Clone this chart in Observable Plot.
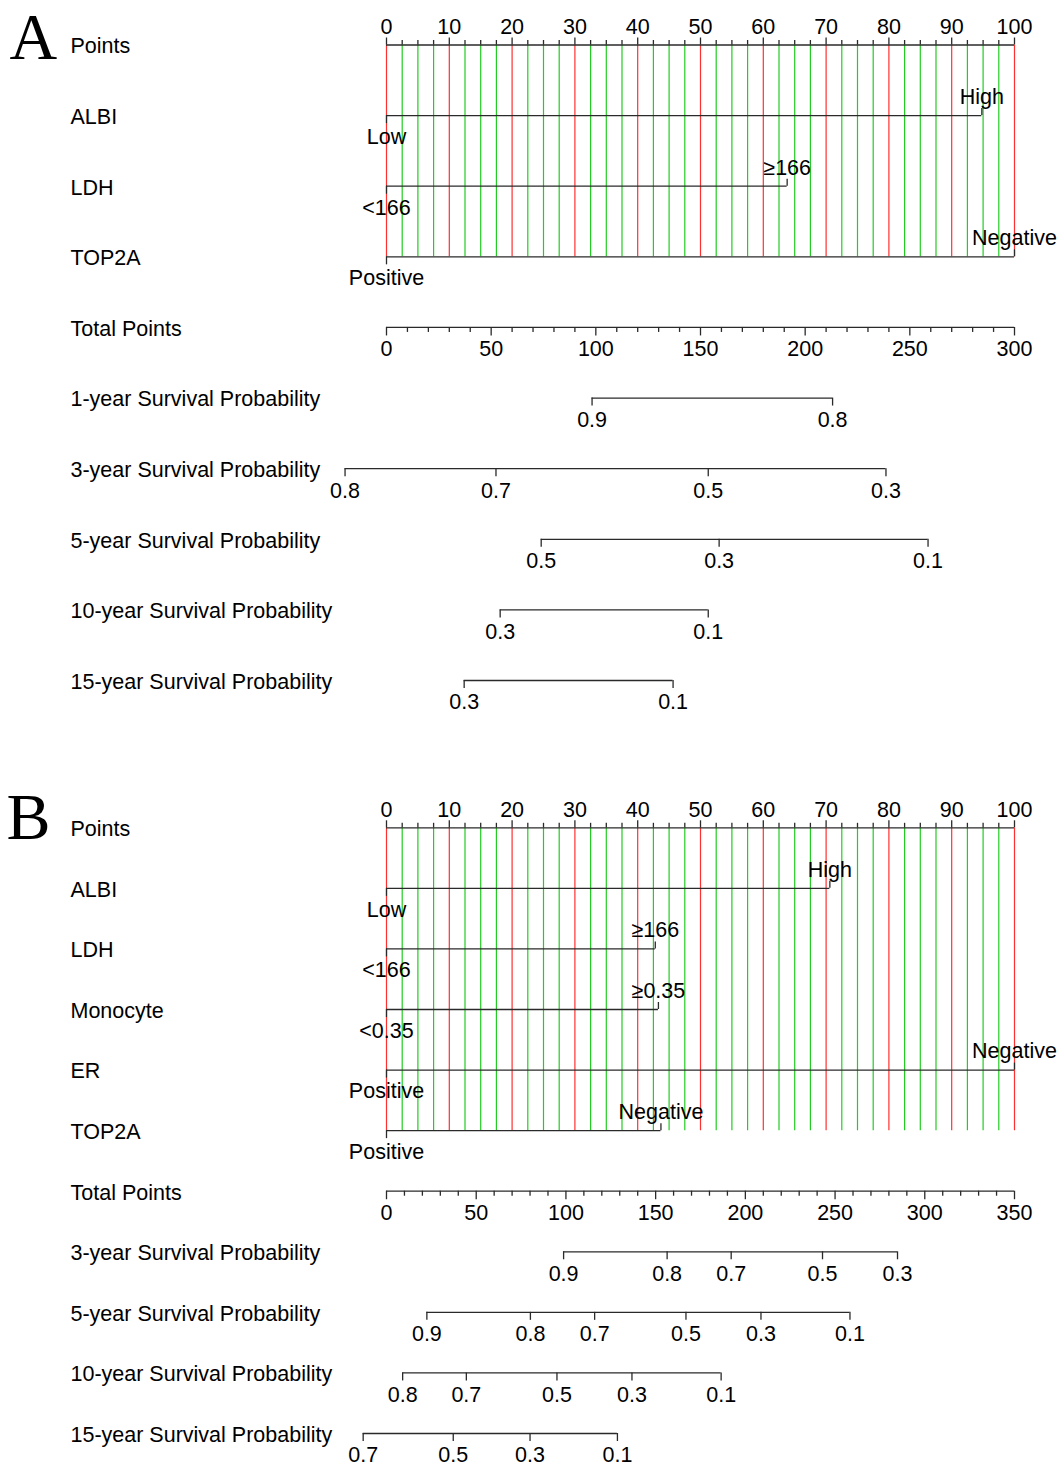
<!DOCTYPE html>
<html><head><meta charset="utf-8">
<script src="https://cdn.jsdelivr.net/npm/d3@7"></script>
<script src="https://cdn.jsdelivr.net/npm/@observablehq/plot@0.6"></script>
<style>
html,body{margin:0;padding:0;background:#fff;}
#chart{width:1062px;}
#chart svg{display:block;background:#fff;}
</style></head><body><div id="chart"></div>
<script>
// ---------- shared ----------
const pointsGrid = d3.range(0, 100.001, 2.5);
const pointsTickLabels = [0, 10, 20, 30, 40, 50, 60, 70, 80, 90, 100];

// ---------- Panel A ----------
const rowsA = ["Points", "ALBI", "LDH", "TOP2A", "Total Points",
  "1-year Survival Probability", "3-year Survival Probability",
  "5-year Survival Probability", "10-year Survival Probability",
  "15-year Survival Probability"];
const covRowsA = ["ALBI", "LDH", "TOP2A"];
const covLevelsA = [["Low", "High"], ["<166", "≥166"], ["Positive", "Negative"]];
const covPointsA = [[0, 94.8], [0, 63.8], [0, 100]];
const totalMaxA = 300;
const totalTickLabelsA = [0, 50, 100, 150, 200, 250, 300];
const survRowsA = ["1-year Survival Probability", "3-year Survival Probability",
  "5-year Survival Probability", "10-year Survival Probability", "15-year Survival Probability"];
const survProbsA = [[0.9, 0.8], [0.8, 0.7, 0.5, 0.3], [0.5, 0.3, 0.1], [0.3, 0.1], [0.3, 0.1]];
const survTotalA = [[98.2, 213.1], [-19.8, 52.3, 153.7, 238.6], [73.9, 158.9, 258.7], [54.3, 153.7], [37.1, 136.9]];

// ---------- Panel B ----------
const rowsB = ["Points", "ALBI", "LDH", "Monocyte", "ER", "TOP2A", "Total Points",
  "3-year Survival Probability", "5-year Survival Probability",
  "10-year Survival Probability", "15-year Survival Probability"];
const covRowsB = ["ALBI", "LDH", "Monocyte", "ER", "TOP2A"];
const covLevelsB = [["Low", "High"], ["<166", "≥166"], ["<0.35", "≥0.35"], ["Positive", "Negative"], ["Positive", "Negative"]];
const covPointsB = [[0, 70.6], [0, 42.8], [0, 43.3], [0, 100], [0, 43.7]];
const totalMaxB = 350;
const totalTickLabelsB = [0, 50, 100, 150, 200, 250, 300, 350];
const survRowsB = ["3-year Survival Probability", "5-year Survival Probability",
  "10-year Survival Probability", "15-year Survival Probability"];
const survProbsB = [[0.9, 0.8, 0.7, 0.5, 0.3], [0.9, 0.8, 0.7, 0.5, 0.3, 0.1], [0.8, 0.7, 0.5, 0.3, 0.1], [0.7, 0.5, 0.3, 0.1]];
const survTotalB = [[98.7, 156.4, 192.1, 243.0, 284.8], [22.5, 80.2, 116.0, 166.9, 208.7, 258.3], [9.0, 44.5, 95.0, 136.8, 186.5], [-13.0, 37.2, 80.0, 128.7]];

const FONT = "'Liberation Sans', Arial, Helvetica, sans-serif";
const SERIF = "'Liberation Serif', 'Times New Roman', Times, serif";
const RED = "#ff3030", GREEN = "#22cc22", AXIS = "#2a2a2a";
const FS = 21.5;
const LETTER_FS = 66;

function panel(o) {
  const n = o.rows.length;
  const step = (o.yRange[1] - o.yRange[0]) / (n - 1);
  const px = v => v / step;
  const row = r => o.rows.indexOf(r);
  const toPts = t => t * 100 / o.totalMax;
  const hLines = [], ticks = [], labels = [];

  // Points axis
  const rp = row("Points");
  hLines.push({x1: 0, x2: 100, y: rp});
  pointsGrid.forEach(v => ticks.push({x: v, y1: rp, y2: rp - px(v % 10 === 0 ? 7 : 4.5)}));
  pointsTickLabels.forEach(v => labels.push({x: v, y: rp - px(17.5), text: String(v)}));

  // covariates
  o.covRows.forEach((r, i) => {
    const ri = row(r);
    const pts = o.covPoints[i];
    hLines.push({x1: d3.min(pts), x2: d3.max(pts), y: ri});
    pts.forEach((p, j) => {
      const up = j % 2 === 1;
      ticks.push({x: p, y1: ri, y2: ri + px(up ? -7 : 8)});
      labels.push({x: p, y: ri + px(up ? -18.5 : 21.5), text: o.covLevels[i][j]});
    });
  });

  // Total points
  const rt = row("Total Points");
  hLines.push({x1: 0, x2: 100, y: rt});
  d3.range(0, o.totalMax + 0.001, 10).forEach(t =>
    ticks.push({x: toPts(t), y1: rt, y2: rt + px(t % 50 === 0 ? 8.5 : 5)}));
  o.totalTickLabels.forEach(t => labels.push({x: toPts(t), y: rt + px(21.5), text: String(t)}));

  // survival axes
  o.survRows.forEach((r, i) => {
    const ri = row(r);
    const xs = o.survTotal[i].map(toPts);
    hLines.push({x1: d3.min(xs), x2: d3.max(xs), y: ri});
    xs.forEach((x, j) => {
      ticks.push({x, y1: ri, y2: ri + px(8)});
      labels.push({x, y: ri + px(22), text: String(o.survProbs[i][j])});
    });
  });

  const lastCov = row(o.covRows[o.covRows.length - 1]);
  const gridRed = pointsGrid.filter(v => v % 10 === 0);
  const gridGreen = pointsGrid.filter(v => v % 10 !== 0);

  return Plot.plot({
    width: 1062,
    height: o.height,
    margin: 0,
    style: {fontFamily: FONT, fontSize: FS + "px", color: "#000", background: "#fff"},
    x: {domain: [0, 100], range: [386, 1014], axis: null},
    y: {domain: [0, n - 1], range: o.yRange, axis: null},
    marks: [
      Plot.ruleX(gridGreen, {x: d => d, y1: rp, y2: lastCov, stroke: GREEN, strokeWidth: 1.2}),
      Plot.ruleX(gridRed, {x: d => d, y1: rp, y2: lastCov, stroke: RED, strokeWidth: 1.2}),
      Plot.ruleY(hLines, {x1: "x1", x2: "x2", y: "y", stroke: AXIS, strokeWidth: 1.3}),
      Plot.ruleX(ticks, {x: "x", y1: "y1", y2: "y2", stroke: AXIS, strokeWidth: 1.3}),
      Plot.text(labels, {x: "x", y: "y", text: "text", fontSize: FS, fill: "#000"}),
      Plot.text(o.rows, {frameAnchor: "left", y: (d, i) => i + px(1.5), text: d => d,
        dx: 70, textAnchor: "start", fontSize: FS, fill: "#000"}),
      Plot.text([o.letter], {frameAnchor: "top-left", text: d => d, dx: o.letterDx, dy: o.letterTop,
        fontSize: LETTER_FS, fontFamily: SERIF, lineAnchor: "top", textAnchor: "start", fill: "#000"})
    ]
  });
}

const chart = document.getElementById("chart");
chart.append(panel({
  letter: "A", letterDx: 9, letterTop: 12,
  rows: rowsA, covRows: covRowsA, covLevels: covLevelsA, covPoints: covPointsA,
  totalMax: totalMaxA, totalTickLabels: totalTickLabelsA,
  survRows: survRowsA, survProbs: survProbsA, survTotal: survTotalA,
  height: 760, yRange: [44.5, 680]
}));
chart.append(panel({
  letter: "B", letterDx: 6, letterTop: 32,
  rows: rowsB, covRows: covRowsB, covLevels: covLevelsB, covPoints: covPointsB,
  totalMax: totalMaxB, totalTickLabels: totalTickLabelsB,
  survRows: survRowsB, survProbs: survProbsB, survTotal: survTotalB,
  height: 707, yRange: [67.3, 673]
}));
</script>
</body></html>
